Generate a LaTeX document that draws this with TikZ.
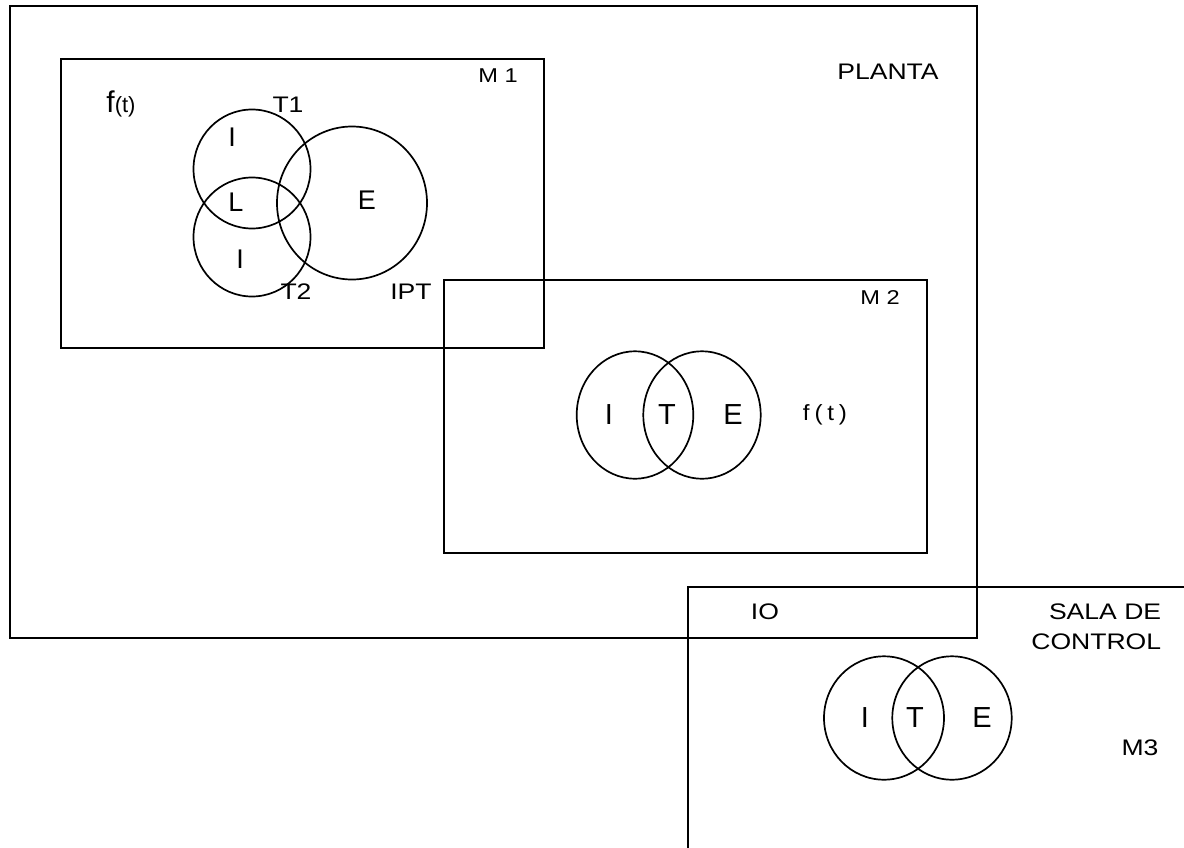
\documentclass[tikz,border=0pt]{standalone}
\usepackage{fontspec}
\setmainfont{Liberation Sans}
\newfontfamily\widesans[FakeStretch=1.18]{Liberation Sans}
\newfontfamily\spacedsans[LetterSpace=22,FakeStretch=1.1]{Liberation Sans}
\usetikzlibrary{positioning}

\begin{document}
\begin{tikzpicture}[x=1pt, y=-1pt, line width=1.7pt, inner sep=0pt]
  \tikzstyle{lbl}=[font=\widesans\fontsize{22.5}{30}\selectfont]
  \tikzstyle{tag}=[font=\widesans\fontsize{20}{24}\selectfont]
  \tikzstyle{zone}=[font=\fontsize{27}{30}\selectfont]
  \tikzstyle{bigzone}=[font=\fontsize{29}{32}\selectfont]
  \useasboundingbox (0,0) rectangle (1184,847);
  \draw (10,6) rectangle (977,638);
  \draw (61,59) rectangle (544,348);
  \draw (444,280) rectangle (927,553);
  \draw (1190,587) -- (688,587) -- (688,852);
  \draw (252,169) ellipse [x radius=58.5, y radius=59.5];
  \draw (252,237) ellipse [x radius=58.5, y radius=59.5];
  \draw (352,203) ellipse [x radius=75, y radius=76.5];
  \draw (635,415) ellipse [x radius=58.3, y radius=63.7];
  \draw (702,415) ellipse [x radius=58.7, y radius=63.7];
  \draw (884,718) ellipse [x radius=60, y radius=61.7];
  \draw (952,718) ellipse [x radius=59.7, y radius=61.7];
  \node[lbl] (planta) at (888,72) {PLANTA};
  \node[tag] (mone) at (498,76) {M 1};
  \node[lbl, font=\fontsize{30}{32}\selectfont] (fone) at (121,104) {f{\fontsize{22}{24}\selectfont(t)}};
  \node[lbl] (tone) at (288,105) {T1};
  \node[zone] (ione) at (232,137) {I};
  \node[zone] (lone) at (236,202) {L};
  \node[zone] (eone) at (367,200) {E};
  \node[zone] (itwo) at (240,259) {I};
  \node[lbl] (ttwo) at (296,292) {T2};
  \node[lbl] (ipt) at (411,292) {IPT};
  \node[tag] (mtwo) at (880,298) {M 2};
  \node[bigzone] (ime) at (609,415) {I};
  \node[bigzone] (tme) at (667,415) {T};
  \node[bigzone] (eme) at (733,415) {E};
  \node[font=\spacedsans\fontsize{22}{26}\selectfont] (ftwo) at (825,415) {f(t)};
  \node[lbl] (io) at (765,612) {IO};
  \node[lbl, align=right, anchor=east] (sala) at (1162,627) {SALA DE\\CONTROL};
  \node[bigzone] (isc) at (865,718) {I};
  \node[bigzone] (tsc) at (915,718) {T};
  \node[bigzone] (esc) at (982,718) {E};
  \node[lbl] (mthree) at (1140,748) {M3};
\end{tikzpicture}
\end{document}
